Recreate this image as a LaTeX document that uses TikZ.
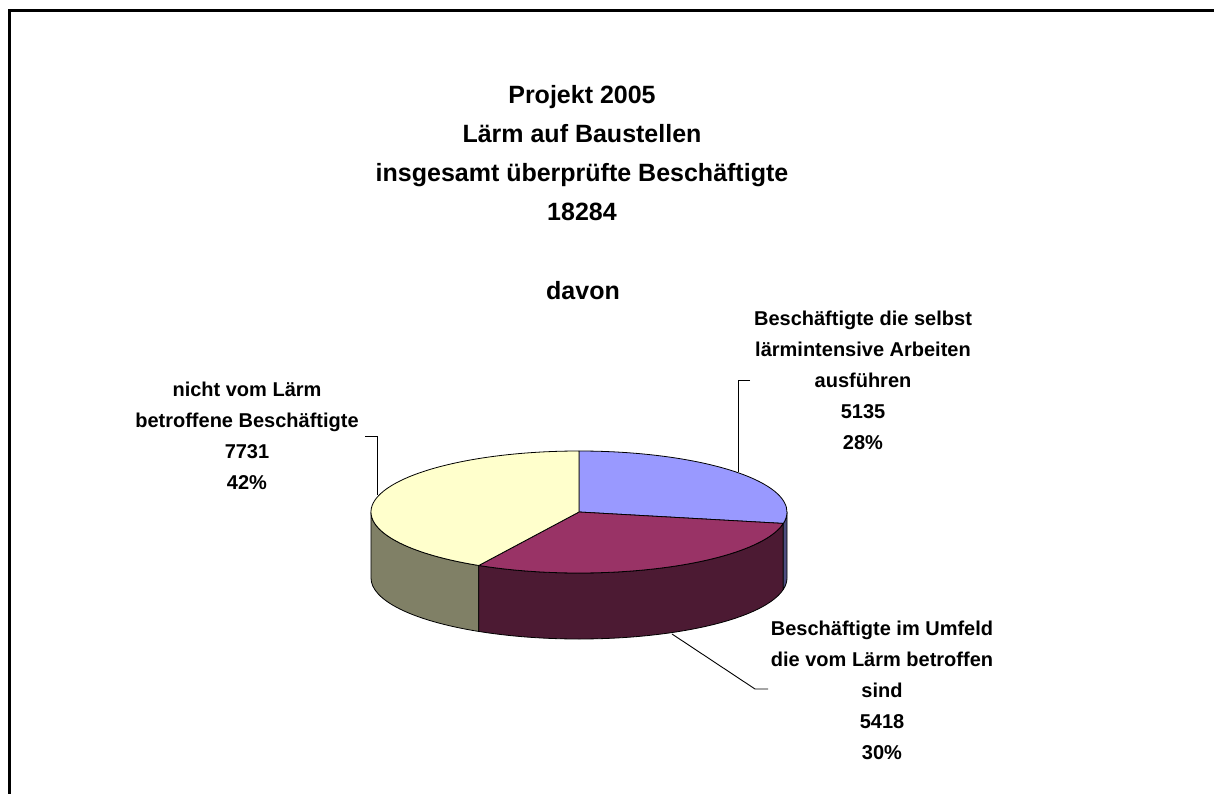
\documentclass[tikz,border=0pt]{standalone}
\usepackage{fontspec}
\setmainfont{Liberation Sans}
\usepackage{xcolor}
\usepackage{tikz}

\definecolor{topblue}{HTML}{9999FF}
\definecolor{sideblue}{HTML}{4D4D80}
\definecolor{topmaroon}{HTML}{993366}
\definecolor{sidemaroon}{HTML}{4C1A33}
\definecolor{topyellow}{HTML}{FFFFCC}
\definecolor{sideyellow}{HTML}{808066}

\begin{document}
\begin{tikzpicture}[x=1pt, y=-1pt,
  title/.style={align=center, inner sep=0pt, font=\bfseries\fontsize{25}{39}\selectfont},
  lbl/.style={align=center, inner sep=0pt, font=\bfseries\fontsize{20}{31}\selectfont},
  leader/.style={draw, line width=0.9pt},
  slice/.style={draw=black, line width=0.8pt, line join=round}
]
\useasboundingbox (0,0) rectangle (1214,794);

% Frame (top and left edge only)
\draw[line width=3pt] (9,794) -- (9,11) -- (1214,11);

% Title (base anchor = last line)
\node[title, anchor=base] (title) at (582,221)
  {Projekt 2005\\Lärm auf Baustellen\\insgesamt überprüfte Beschäftigte\\18284};
\node[title, anchor=base] (davon) at (583,299) {davon};

% Pie: centre of top face
\coordinate (c) at (579,512);

% Side faces
\filldraw[slice, fill=sideyellow] (c) ++(118.8:208 and 61)
  arc[start angle=118.8, end angle=180, x radius=208, y radius=61] -- ++(0,66)
  arc[start angle=180, end angle=118.8, x radius=208, y radius=61] -- cycle;
\filldraw[slice, fill=sidemaroon] (c) ++(10.8:208 and 61)
  arc[start angle=10.8, end angle=118.8, x radius=208, y radius=61] -- ++(0,66)
  arc[start angle=118.8, end angle=10.8, x radius=208, y radius=61] -- cycle;
\filldraw[slice, fill=sideblue] (c) ++(0:208 and 61)
  arc[start angle=0, end angle=10.8, x radius=208, y radius=61] -- ++(0,66)
  arc[start angle=10.8, end angle=0, x radius=208, y radius=61] -- cycle;

% Top faces
\filldraw[slice, fill=topblue] (c) -- ++(-90:208 and 61)
  arc[start angle=-90, end angle=10.8, x radius=208, y radius=61] -- cycle;
\filldraw[slice, fill=topmaroon] (c) -- ++(10.8:208 and 61)
  arc[start angle=10.8, end angle=118.8, x radius=208, y radius=61] -- cycle;
\filldraw[slice, fill=topyellow] (c) -- ++(118.8:208 and 61)
  arc[start angle=118.8, end angle=270, x radius=208, y radius=61] -- cycle;

% Labels (base anchor = last line)
\node[lbl, anchor=base] (lblyellow) at (247,489)
  {nicht vom Lärm\\betroffene Beschäftigte\\7731\\42\%};
\node[lbl, anchor=base] (lblblue) at (863,449)
  {Beschäftigte die selbst\\lärmintensive Arbeiten\\ausführen\\5135\\28\%};
\node[lbl, anchor=base] (lblmaroon) at (882,759)
  {Beschäftigte im Umfeld\\die vom Lärm betroffen\\sind\\5418\\30\%};

% Leader lines
\coordinate (yend) at (365,436);
\coordinate (ypie) at (377,495);
\coordinate (bend) at (750,380);
\coordinate (bpie) at (738,472);
\coordinate (mend) at (768,689);
\coordinate (mknee) at (755,689);
\coordinate (mpie) at (672,634);
\draw[leader] (yend) -| (ypie);
\draw[leader] (bend) -| (bpie);
\draw[leader] (mend) -- (mknee) -- (mpie);

\end{tikzpicture}
\end{document}
